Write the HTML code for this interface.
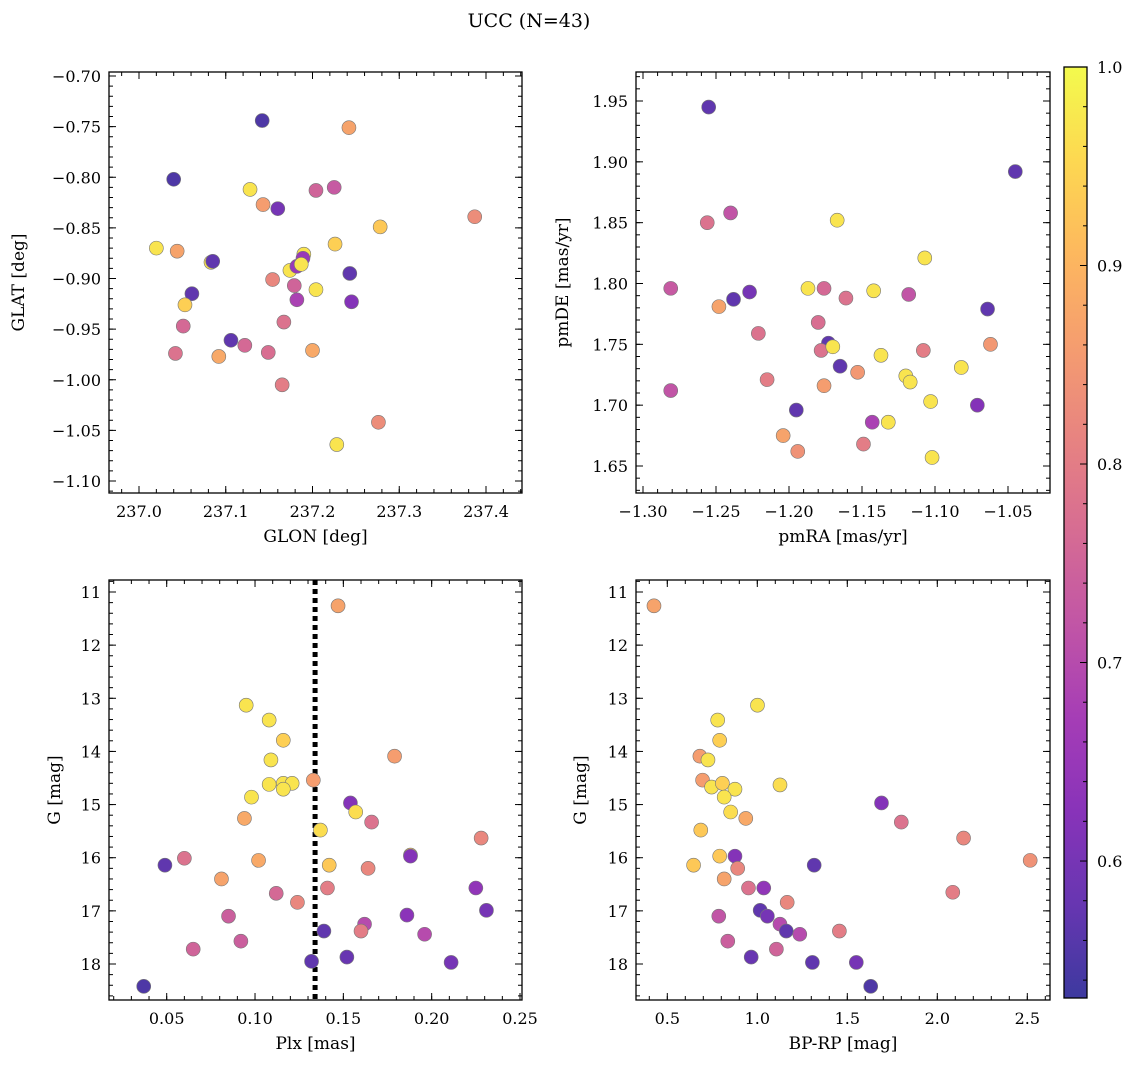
<!DOCTYPE html>
<html><head><meta charset="utf-8">
<style>
body{margin:0;background:#fff;}
svg text{font-family:"DejaVu Serif","Liberation Serif",serif;fill:#000;}
</style></head>
<body>
<svg id="fig" width="1136" height="1067" xmlns="http://www.w3.org/2000/svg">
<defs>
<linearGradient id="cbgrad" x1="0" y1="1" x2="0" y2="0"></linearGradient>
</defs>
<text x="529" y="27" text-anchor="middle" font-size="19">UCC (N=43)</text>
</svg>
<script>
// ---------- data ----------
const glon=[237.142,237.242,237.040,237.128,237.225,237.204,237.143,237.160,237.387,237.278,237.020,237.044,237.226,237.190,237.189,237.083,237.085,237.174,237.182,237.187,237.243,237.154,237.061,237.204,237.179,237.182,237.053,237.245,237.167,237.051,237.106,237.122,237.042,237.149,237.092,237.200,237.165,237.276,237.228];
const glat=[-0.744,-0.751,-0.802,-0.812,-0.810,-0.813,-0.827,-0.831,-0.839,-0.849,-0.870,-0.873,-0.866,-0.876,-0.880,-0.884,-0.883,-0.892,-0.888,-0.886,-0.895,-0.901,-0.915,-0.911,-0.907,-0.921,-0.926,-0.923,-0.943,-0.947,-0.961,-0.966,-0.974,-0.973,-0.977,-0.971,-1.005,-1.042,-1.064];
const probA=[0.55,0.87,0.55,0.97,0.73,0.75,0.86,0.60,0.83,0.93,0.97,0.87,0.94,0.97,0.65,0.96,0.57,0.97,0.65,0.97,0.57,0.82,0.57,0.97,0.75,0.68,0.94,0.62,0.78,0.76,0.57,0.76,0.78,0.77,0.88,0.88,0.80,0.83,0.97];

const pmra=[-1.255,-1.045,-1.256,-1.240,-1.167,-1.281,-1.248,-1.238,-1.227,-1.187,-1.176,-1.161,-1.142,-1.118,-1.107,-1.064,-1.221,-1.180,-1.173,-1.178,-1.170,-1.165,-1.137,-1.108,-1.062,-1.082,-1.215,-1.176,-1.153,-1.120,-1.117,-1.281,-1.103,-1.071,-1.195,-1.204,-1.149,-1.143,-1.132,-1.194,-1.102];
const pmde=[1.945,1.892,1.850,1.858,1.852,1.796,1.781,1.787,1.793,1.796,1.796,1.788,1.794,1.791,1.821,1.779,1.759,1.768,1.751,1.745,1.748,1.732,1.741,1.745,1.750,1.731,1.721,1.716,1.727,1.724,1.719,1.712,1.703,1.700,1.696,1.675,1.668,1.686,1.686,1.662,1.657];
const probB=[0.57,0.57,0.78,0.72,0.97,0.73,0.87,0.57,0.60,0.97,0.76,0.78,0.97,0.72,0.97,0.57,0.78,0.77,0.57,0.78,0.97,0.57,0.97,0.80,0.85,0.97,0.80,0.86,0.85,0.97,0.97,0.72,0.97,0.62,0.57,0.87,0.80,0.68,0.97,0.84,0.97];

const plx=[0.147,0.095,0.108,0.116,0.179,0.109,0.133,0.108,0.116,0.121,0.116,0.098,0.154,0.137,0.157,0.094,0.166,0.228,0.188,0.188,0.142,0.049,0.060,0.102,0.164,0.081,0.225,0.141,0.112,0.124,0.231,0.085,0.186,0.162,0.139,0.160,0.196,0.092,0.065,0.152,0.132,0.211,0.037];
const gC=[11.26,13.13,13.41,13.79,14.09,14.16,14.54,14.62,14.60,14.60,14.71,14.86,14.97,15.48,15.14,15.26,15.33,15.63,15.95,15.97,16.14,16.14,16.01,16.05,16.20,16.40,16.57,16.57,16.67,16.84,16.99,17.10,17.08,17.25,17.38,17.38,17.44,17.57,17.72,17.87,17.95,17.97,18.42];
const probC=[0.87,0.97,0.97,0.94,0.86,0.97,0.86,0.97,0.97,0.97,0.97,0.97,0.62,0.96,0.96,0.88,0.78,0.82,0.93,0.62,0.93,0.57,0.78,0.88,0.82,0.87,0.64,0.80,0.76,0.82,0.60,0.74,0.63,0.70,0.57,0.80,0.70,0.74,0.75,0.58,0.57,0.60,0.55];
const plxCut=0.134;

const bprp=[0.426,1.001,0.780,0.791,0.681,0.726,0.696,0.746,0.806,0.876,1.126,0.816,1.690,0.852,0.936,1.800,0.686,2.146,0.791,0.876,0.646,0.891,1.316,2.516,0.816,0.951,1.036,2.086,1.166,0.786,1.016,1.056,1.126,1.161,1.236,1.456,0.836,1.106,0.966,1.306,1.550,1.630];
const gD=[11.26,13.13,13.41,13.79,14.09,14.16,14.54,14.67,14.60,14.71,14.63,14.86,14.97,15.14,15.26,15.33,15.48,15.63,15.97,15.97,16.14,16.20,16.14,16.05,16.40,16.57,16.57,16.65,16.84,17.10,16.99,17.10,17.25,17.38,17.44,17.38,17.57,17.72,17.87,17.97,17.97,18.42];
const probD=[0.87,0.97,0.97,0.94,0.86,0.97,0.86,0.97,0.94,0.97,0.96,0.97,0.62,0.96,0.88,0.78,0.93,0.82,0.93,0.62,0.93,0.82,0.57,0.84,0.87,0.78,0.64,0.80,0.82,0.72,0.57,0.60,0.70,0.57,0.70,0.80,0.74,0.75,0.58,0.57,0.60,0.55];

const cbTicks=[0.6,0.7,0.8,0.9,1.0];
const vmin=0.531, vmax=1.0;

// ---------- colormap (plasma, alpha 0.8 over white) ----------
const plasma=["#0d0887","#41049d","#6a00a8","#8f0da4","#b12a90","#cc4778","#e16462","#f2844b","#fca636","#fcce25","#f0f921"];
function hex2(h){return [1,3,5].map(i=>parseInt(h.substr(i,2),16));}
function cmap(v){
  let t=(v-vmin)/(vmax-vmin);t=Math.max(0,Math.min(1,t));
  const f=t*10,i=Math.min(9,Math.floor(f)),r=f-i;
  const a=hex2(plasma[i]),b=hex2(plasma[i+1]);
  return "rgb("+a.map((c,k)=>{const x=c+(b[k]-c)*r;return Math.round(x*0.8+255*0.2);}).join(",")+")";
}

const NS="http://www.w3.org/2000/svg";
const svg=document.getElementById("fig");
function el(tag,attrs,parent){const e=document.createElementNS(NS,tag);for(const k in attrs)e.setAttribute(k,attrs[k]);(parent||svg).appendChild(e);return e;}

function fmt(v,d){let s=v.toFixed(d);return s.replace("-","\u2212");}

function panel(o){
  const g=el("g",{});
  
  
  const X=v=>o.px0+(v-o.x0)*(o.px1-o.px0)/(o.x1-o.x0);
  const Y=v=>o.py0+(v-o.y0)*(o.py1-o.py0)/(o.y1-o.y0);
  if(o.vline!==undefined){
    const l=el("line",{x1:X(o.vline),x2:X(o.vline),y1:o.T,y2:o.B,stroke:"#000","stroke-width":5,"stroke-dasharray":"5,4"},g);
    
    
  }
  for(let i=0;i<o.xs.length;i++){
    const c=el("circle",{cx:X(o.xs[i]),cy:Y(o.ys[i]),r:7,fill:cmap(o.ps[i]),stroke:"#777","stroke-width":0.6},g);
    
    
  }
  const fr=el("rect",{x:o.L,y:o.T,width:o.R-o.L,height:o.B-o.T,fill:"none",stroke:"#000","stroke-width":1.3},g);
  
  
  const eps=1e-9;
  function ticksX(step,len,label){
    const lo=o.x0+(o.L-o.px0)*(o.x1-o.x0)/(o.px1-o.px0), hi=o.x0+(o.R-o.px0)*(o.x1-o.x0)/(o.px1-o.px0);
    const a=Math.min(lo,hi),b=Math.max(lo,hi);
    for(let n=Math.ceil(a/step-eps);n*step<=b+eps;n++){
      const v=n*step,x=X(v);
      el("line",{x1:x,x2:x,y1:o.B,y2:o.B-len,stroke:"#000","stroke-width":1},g);
      el("line",{x1:x,x2:x,y1:o.T,y2:o.T+len,stroke:"#000","stroke-width":1},g);
      if(label){const t=el("text",{x:x,y:o.B+24,"text-anchor":"middle","font-size":16},g);t.textContent=fmt(v,o.xd);
        }
    }
  }
  function ticksY(step,len,label){
    const lo=o.y0+(o.T-o.py0)*(o.y1-o.y0)/(o.py1-o.py0), hi=o.y0+(o.B-o.py0)*(o.y1-o.y0)/(o.py1-o.py0);
    const a=Math.min(lo,hi),b=Math.max(lo,hi);
    for(let n=Math.ceil(a/step-eps);n*step<=b+eps;n++){
      const v=n*step,y=Y(v);
      el("line",{x1:o.L,x2:o.L+len,y1:y,y2:y,stroke:"#000","stroke-width":1},g);
      el("line",{x1:o.R,x2:o.R-len,y1:y,y2:y,stroke:"#000","stroke-width":1},g);
      if(label){const t=el("text",{x:o.L-8,y:y+6,"text-anchor":"end","font-size":16},g);t.textContent=fmt(v,o.yd);
        }
    }
  }
  ticksX(o.xmaj,7,true);ticksX(o.xmin,4,false);
  ticksY(o.ymaj,7,true);ticksY(o.ymin,4,false);
  const xl=el("text",{x:(o.L+o.R)/2,y:o.B+49,"text-anchor":"middle","font-size":17},g);xl.textContent=o.xlab;
  
  const yx=o.ylx, yc=(o.T+o.B)/2;
  const yl=el("text",{x:yx,y:yc,"text-anchor":"middle","font-size":17,transform:"rotate(-90 "+yx+" "+yc+")"},g);yl.textContent=o.ylab;
  
}

panel({name:"glon-glat-panel",L:109,R:522,T:72,B:493,x0:237.0,x1:237.4,px0:139,px1:486,y0:-0.70,y1:-1.10,py0:76,py1:481,
  xs:glon,ys:glat,ps:probA,xmaj:0.1,xmin:0.02,ymaj:0.05,ymin:0.01,xd:1,yd:2,xlab:"GLON [deg]",ylab:"GLAT [deg]",ylx:24});
panel({name:"pm-panel",L:636,R:1050,T:72,B:493,x0:-1.25,x1:-1.05,px0:716,px1:1008,y0:1.95,y1:1.65,py0:101,py1:466,
  xs:pmra,ys:pmde,ps:probB,xmaj:0.05,xmin:0.01,ymaj:0.05,ymin:0.01,xd:2,yd:2,xlab:"pmRA [mas/yr]",ylab:"pmDE [mas/yr]",ylx:568});
panel({name:"plx-g-panel",L:109,R:522,T:580,B:1000,x0:0.05,x1:0.25,px0:166.7,px1:520,y0:11,y1:18,py0:592,py1:964,
  xs:plx,ys:gC,ps:probC,xmaj:0.05,xmin:0.01,ymaj:1,ymin:0.2,xd:2,yd:0,xlab:"Plx [mas]",ylab:"G [mag]",ylx:60,vline:plxCut});
panel({name:"cmd-panel",L:636,R:1050,T:580,B:1000,x0:0.5,x1:2.5,px0:667.3,px1:1027.3,y0:11,y1:18,py0:592,py1:964,
  xs:bprp,ys:gD,ps:probD,xmaj:0.5,xmin:0.1,ymaj:1,ymin:0.2,xd:1,yd:0,xlab:"BP-RP [mag]",ylab:"G [mag]",ylx:586});

// colorbar
const cb={L:1064,R:1087,T:67,B:998};
const cbY=v=>cb.T+(vmax-v)*(cb.B-cb.T)/(vmax-vmin);
const grad=document.getElementById("cbgrad");
for(let i=0;i<=20;i++){const v=vmin+(vmax-vmin)*i/20;el("stop",{offset:(i/20),"stop-color":cmap(v)},grad);}
const cbr=el("rect",{x:cb.L,y:cb.T,width:cb.R-cb.L,height:cb.B-cb.T,fill:"url(#cbgrad)",stroke:"#000","stroke-width":1.3});


for(let n=Math.ceil(vmin/0.02);n*0.02<=vmax+1e-9;n++){const y=cbY(n*0.02);el("line",{x1:cb.R,x2:cb.R-4,y1:y,y2:y,stroke:"#000"});}
cbTicks.forEach(v=>{const y=cbY(v);el("line",{x1:cb.R,x2:cb.R-7,y1:y,y2:y,stroke:"#000"});
  const t=el("text",{x:cb.R+10,y:y+6,"font-size":16});t.textContent=v.toFixed(1);
  
  });
</script>
</body></html>
